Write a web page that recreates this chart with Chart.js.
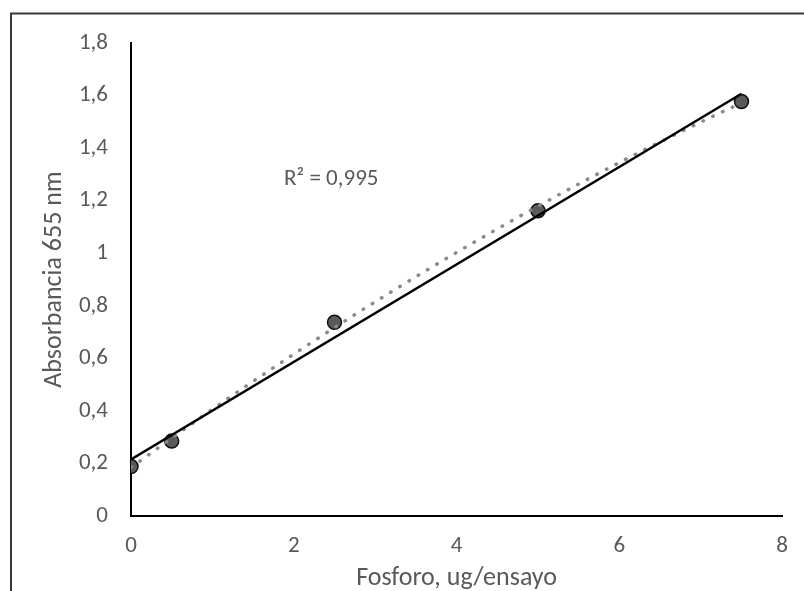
<!DOCTYPE html>
<html>
<head>
<meta charset="utf-8">
<script src="https://cdn.jsdelivr.net/npm/chart.js@4/dist/chart.umd.min.js"></script>
<style>
  html, body { margin: 0; padding: 0; background: #fff; }
  canvas { display: block; }
</style>
</head>
<body>
<canvas id="grafico" width="804" height="591"></canvas>
<script>
// Curva de calibración de fósforo
const fosforo = [0, 0.5, 2.5, 5, 7.5];
const absorbancia = [0.188, 0.285, 0.737, 1.162, 1.577];

const rectaX = [0, 7.5];
const rectaY = [0.215, 1.607];

// Curva punteada
const curvaX = [0, 1, 2, 3, 4, 5, 6, 7, 7.5];
const curvaY = [0.185, 0.406, 0.616, 0.815, 1.003, 1.179, 1.345, 1.499, 1.572];

const ticksX = [0, 2, 4, 6, 8];
const ticksY = [0, 0.2, 0.4, 0.6, 0.8, 1, 1.2, 1.4, 1.6, 1.8];
const textoR2 = 'R² = 0,995';

const fuente = 'Carlito, Calibri, Lato, sans-serif';
const gris = '#595959';

function coma(v) {
    return String(Math.round(v * 10) / 10).replace('.', ',');
}

// Marco del gráfico y etiqueta del R²
const extras = {
    id: 'extras',
    afterDraw(chart) {
        const ctx = chart.ctx;
        ctx.save();
        ctx.strokeStyle = '#3a3a3a';
        ctx.lineWidth = 2;
        ctx.beginPath();
        ctx.moveTo(11, 591);
        ctx.lineTo(11, 13.5);
        ctx.lineTo(804, 13.5);
        ctx.stroke();

        const x = chart.scales.x.getPixelForValue(2.46);
        const y = chart.scales.y.getPixelForValue(1.28);
        ctx.fillStyle = gris;
        ctx.font = '23px ' + fuente;
        ctx.textAlign = 'center';
        ctx.textBaseline = 'middle';
        ctx.fillText(textoR2, x, y);
        ctx.restore();
    }
};

new Chart(document.getElementById('grafico').getContext('2d'), {
    type: 'scatter',
    data: {
        datasets: [
            {
                label: 'Recta',
                type: 'line',
                data: rectaX.map((x, i) => ({ x: x, y: rectaY[i] })),
                borderColor: '#000',
                borderWidth: 2.5,
                pointRadius: 0,
                fill: false,
                order: 1
            },
            {
                label: 'Curva',
                type: 'line',
                data: curvaX.map((x, i) => ({ x: x, y: curvaY[i] })),
                borderColor: '#8a8a8a',
                borderWidth: 3.5,
                borderDash: [0.5, 10.3],
                borderCapStyle: 'round',
                cubicInterpolationMode: 'monotone',
                pointRadius: 0,
                fill: false,
                order: 2
            },
            {
                label: 'Absorbancia',
                data: fosforo.map((x, i) => ({ x: x, y: absorbancia[i] })),
                backgroundColor: '#5a5a5a',
                borderColor: '#111',
                borderWidth: 1.5,
                pointRadius: 7,
                order: 3
            }
        ]
    },
    options: {
        responsive: false,
        animation: false,
        layout: { padding: { left: 0, right: 16, top: 43, bottom: 0 } },
        plugins: {
            legend: { display: false },
            tooltip: { enabled: false }
        },
        scales: {
            x: {
                type: 'linear',
                min: 0,
                max: 8,
                afterFit(scale) { scale.height = 75; },
                afterBuildTicks(scale) { scale.ticks = ticksX.map(v => ({ value: v })); },
                grid: { display: false, drawTicks: false },
                border: { display: true, color: '#000', width: 2 },
                ticks: {
                    color: gris,
                    font: { family: fuente, size: 23 },
                    padding: 16,
                    callback: v => coma(v)
                },
                title: {
                    display: true,
                    text: 'Fosforo, ug/ensayo',
                    color: gris,
                    font: { family: fuente, size: 26 },
                    padding: { top: 0, bottom: -3 }
                }
            },
            y: {
                type: 'linear',
                min: 0,
                max: 1.8,
                afterFit(scale) { scale.width = 131; },
                afterBuildTicks(scale) { scale.ticks = ticksY.map(v => ({ value: v })); },
                grid: { display: false, drawTicks: false },
                border: { display: true, color: '#000', width: 2 },
                ticks: {
                    color: gris,
                    font: { family: fuente, size: 23 },
                    padding: 23,
                    callback: v => coma(v)
                },
                title: {
                    display: true,
                    text: 'Absorbancia 655 nm',
                    color: gris,
                    font: { family: fuente, size: 26 },
                    padding: { top: 39, bottom: 0 }
                }
            }
        }
    },
    plugins: [extras]
});
</script>
</body>
</html>
